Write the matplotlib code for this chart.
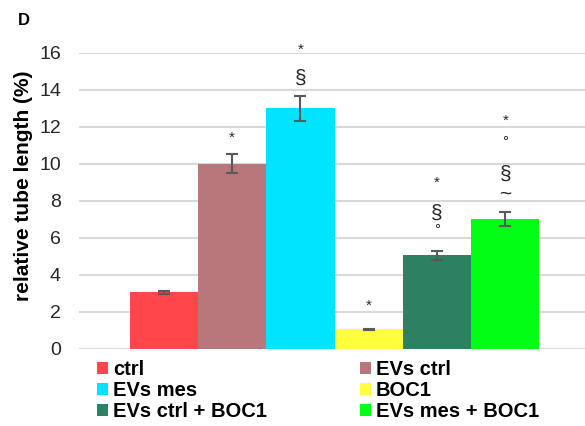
import matplotlib
matplotlib.use("Agg")
import matplotlib.pyplot as plt
from matplotlib.patches import Patch

plt.rcParams['font.family'] = ['Liberation Sans', 'DejaVu Sans']

# Data
groups = ["ctrl", "EVs ctrl", "EVs mes", "BOC1", "EVs ctrl + BOC1", "EVs mes + BOC1"]
values = [3.05, 10.0, 13.0, 1.05, 5.05, 7.0]
errors = [0.1, 0.52, 0.68, 0.04, 0.25, 0.38]
colors = ["#FF464B", "#B8777A", "#00E4FF", "#FFFF3C", "#2E8063", "#00FF14"]
# significance marks drawn above each bar, bottom to top
marks = [[], ["*"], ["§", "*"], ["*"], ["°", "§", "*"], ["~", "§", "°", "*"]]
# vertical offset (pixels) of each mark above the error-bar top
mark_offsets = [[], [16], [18, 46], [23], [21, 38, 68], [18, 38, 70, 92]]
yticks = [0, 2, 4, 6, 8, 10, 12, 14, 16]

fig = plt.figure(figsize=(5.85, 4.26), dpi=100)
ax = fig.add_axes([0.135, 0.181, 0.865, 0.695])

width = 0.135
n = len(groups)
xs = [0.005 + (i - (n - 1) / 2) * width for i in range(n)]
for x, v, e, c, g in zip(xs, values, errors, colors, groups):
    ax.bar(x, v, width=width, color=c, label=g, zorder=2)
    ax.errorbar(x, v, yerr=e, fmt="none", ecolor="#595959", elinewidth=1.5,
                capsize=4.5, capthick=1.5, zorder=3)

for x, v, e, ms, offs in zip(xs, values, errors, marks, mark_offsets):
    for m, off in zip(ms, offs):
        fs = 11 if m in ("*", "°") else 15
        ax.annotate(m, (x, v + e), xytext=(0, off), textcoords="offset pixels",
                    ha="center", va="center", fontsize=fs, color="#262626",
                    annotation_clip=False)

ax.set_xlim(-0.5, 0.5)
ax.set_ylim(0, 16)
ax.set_yticks(yticks)
ax.set_xticks([])
ax.yaxis.grid(True, color="#D9D9D9", linewidth=1.5, zorder=0)
ax.set_axisbelow(True)
for s in ax.spines.values():
    s.set_visible(False)
ax.tick_params(axis="y", length=0, labelsize=14, labelcolor="#262626", pad=13)
ax.set_ylabel("relative tube length (%)", fontsize=15, fontweight="bold",
              color="#000000")
ax.yaxis.set_label_coords(-0.091, 0.55)

fig.text(0.031, 0.951, "D", fontsize=12, fontweight="bold", ha="left", va="center")

# legend filled row by row (two columns)
order = [0, 2, 4, 1, 3, 5]
handles = [Patch(facecolor=colors[i], edgecolor="none") for i in order]
labels = [groups[i] for i in order]
fig.legend(handles, labels, loc="upper left", bbox_to_anchor=(0.166, 0.155),
           ncol=2, frameon=False, prop={"weight": "bold", "size": 14.5},
           handlelength=0.55, handleheight=0.55, handletextpad=0.25,
           columnspacing=4.6, labelspacing=0.1, borderaxespad=0,
           borderpad=0)

fig.savefig("out.png", dpi=100)
